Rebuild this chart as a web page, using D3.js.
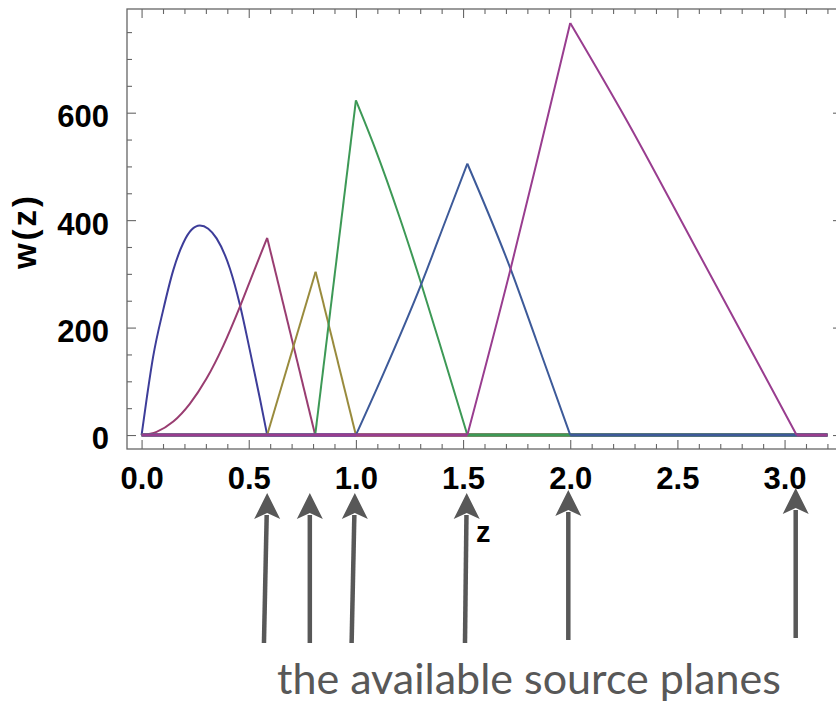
<!DOCTYPE html>
<html>
<head>
<meta charset="utf-8">
<script src="https://cdnjs.cloudflare.com/ajax/libs/d3/7.8.5/d3.min.js"></script>
<style>
    body { margin: 0; background: #fff; }
    svg { display: block; }
    .tick text { font-family: "Liberation Sans", Arial, sans-serif; font-weight: bold; font-size: 31px; fill: #000; }
    .tick line { stroke: #666; stroke-width: 1.1; }
    .axis-title { font-family: "Liberation Sans", Arial, sans-serif; font-weight: bold; fill: #000; }
    .note { font-family: Lato, "Open Sans", sans-serif; fill: #585858; }
</style>
</head>
<body>
<div id="chart"></div>
<script>

// weight functions w(z) of the six source planes
let z1 = [0, 0.025, 0.054, 0.101, 0.148, 0.194, 0.233, 0.272, 0.311, 0.35, 0.412, 0.459, 0.505, 0.552, 0.586, 3.2];
let w1 = [0, 71, 146, 233, 307, 357, 382, 390, 384, 366, 310, 242, 158, 68, 0, 0];

let z2 = [0, 0.07, 0.148, 0.225, 0.303, 0.381, 0.459, 0.521, 0.586, 0.81, 3.2];
let w2 = [0, 6, 25, 58, 105, 166, 239, 302, 367, 0, 0];

let z3 = [0, 0.586, 0.812, 1.0, 3.2];
let w3 = [0, 0, 304, 0, 0];

let z4 = [0, 0.81, 1.0, 1.089, 1.205, 1.299, 1.407, 1.52, 3.2];
let w4 = [0, 0, 623, 534, 404, 289, 149, 0, 0];

let z5 = [0, 1.0, 1.127, 1.306, 1.423, 1.52, 1.719, 1.843, 2.0, 3.2];
let w5 = [0, 0, 113, 282, 404, 505, 312, 175, 0, 0];

let z6 = [0, 1.52, 1.719, 1.851, 2.0, 2.263, 2.574, 2.885, 3.056, 3.2];
let w6 = [0, 0, 305, 520, 767, 586, 357, 127, 0, 0];

let seriesColors = ["#3d3d99", "#993d71", "#998b3d", "#3d9956", "#3d5a99", "#993d8f"];
// only the first weight has a rounded top, the others have a sharp peak
let smoothTop = [true, false, false, false, false, false];

// axis ticks
let xMajor = [0, 0.5, 1.0, 1.5, 2.0, 2.5, 3.0];
let xLabels = ["0.0", "0.5", "1.0", "1.5", "2.0", "2.5", "3.0"];
let yMajor = [0, 200, 400, 600];
let yLabels = ["0", "200", "400", "600"];

// arrows pointing at the source planes (z of tip and tail)
let arrowTipZ = [0.586, 0.785, 0.995, 1.517, 1.991, 3.052];
let arrowTailZ = [0.571, 0.785, 0.980, 1.509, 1.991, 3.052];
let noteText = "the available source planes";


class WeightVis {

    constructor(_parentElement) {
        this.parentElement = _parentElement;
        this.initVis();
    }

    initVis() {
        let vis = this;

        vis.width = 836;
        vis.height = 705;

        vis.svg = d3.select("#" + vis.parentElement).append("svg")
            .attr("width", vis.width)
            .attr("height", vis.height);

        // frame box (right edge falls just outside the picture)
        vis.frame = { left: 127, right: 842, top: 9, bottom: 449 };

        vis.x = d3.scaleLinear()
            .domain([-0.068, 3.268])
            .range([vis.frame.left, vis.frame.right]);

        vis.y = d3.scaleLinear()
            .domain([-26, 793])
            .range([vis.frame.bottom, vis.frame.top]);

        vis.wrangleData();
    }

    /*
     * split every series into pieces: flat zero parts, rising and falling branches
     */
    wrangleData() {
        let vis = this;

        let zs = [z1, z2, z3, z4, z5, z6];
        let ws = [w1, w2, w3, w4, w5, w6];

        vis.displayData = [];

        zs.forEach(function (z, i) {
            let pts = z.map((d, j) => ({ z: d, w: ws[i][j] }));
            let cur = [pts[0]];
            for (let j = 1; j < pts.length; j++) {
                let prev = pts[j - 1], p = pts[j], next = pts[j + 1];
                cur.push(p);
                if (!next) break;
                let cut = false;
                if (p.w === 0 && (prev.w === 0) !== (next.w === 0)) cut = true;
                if (!smoothTop[i] && p.w > prev.w && p.w > next.w) cut = true;
                if (cut) {
                    vis.displayData.push({ series: i, points: cur });
                    cur = [p];
                }
            }
            vis.displayData.push({ series: i, points: cur });
        });

        vis.updateVis();
    }

    updateVis() {
        let vis = this;
        let f = vis.frame;

        let xMinor = d3.range(0, 3.25, 0.1).filter(d => !xMajor.some(m => Math.abs(m - d) < 1e-6));
        let yMinor = d3.range(0, 800, 50).filter(d => yMajor.indexOf(d) < 0);

        // minor ticks on all four sides
        vis.svg.append("g").attr("transform", "translate(0," + f.bottom + ")")
            .call(d3.axisBottom(vis.x).tickValues(xMinor).tickSize(-5).tickFormat(""));
        vis.svg.append("g").attr("transform", "translate(0," + f.top + ")")
            .call(d3.axisTop(vis.x).tickValues(xMinor).tickSize(-5).tickFormat(""));
        vis.svg.append("g").attr("transform", "translate(" + f.left + ",0)")
            .call(d3.axisLeft(vis.y).tickValues(yMinor).tickSize(-5).tickFormat(""));
        vis.svg.append("g").attr("transform", "translate(" + f.right + ",0)")
            .call(d3.axisRight(vis.y).tickValues(yMinor).tickSize(-5).tickFormat(""));

        // major ticks + labels
        vis.svg.append("g").attr("class", "x-axis").attr("transform", "translate(0," + f.bottom + ")")
            .call(d3.axisBottom(vis.x).tickValues(xMajor).tickSize(-9).tickPadding(18)
                .tickFormat((d, i) => xLabels[i]));
        vis.svg.append("g").attr("transform", "translate(0," + f.top + ")")
            .call(d3.axisTop(vis.x).tickValues(xMajor).tickSize(-9).tickFormat(""));
        vis.svg.append("g").attr("class", "y-axis").attr("transform", "translate(" + f.left + ",0)")
            .call(d3.axisLeft(vis.y).tickValues(yMajor).tickSize(-9).tickPadding(18)
                .tickFormat((d, i) => yLabels[i]));
        vis.svg.append("g").attr("transform", "translate(" + f.right + ",0)")
            .call(d3.axisRight(vis.y).tickValues(yMajor).tickSize(-9).tickFormat(""));

        vis.svg.selectAll(".domain").remove();
        vis.svg.select(".y-axis").selectAll("text").attr("dy", "0.45em");

        // frame
        vis.svg.append("rect")
            .attr("x", f.left)
            .attr("y", f.top)
            .attr("width", f.right - f.left)
            .attr("height", f.bottom - f.top)
            .attr("fill", "none")
            .attr("stroke", "#666")
            .attr("stroke-width", 1.3);

        // curves, each piece smoothed on its own so peaks stay sharp
        vis.line = d3.line()
            .x(d => vis.x(d.z))
            .y(d => vis.y(d.w))
            .curve(d3.curveMonotoneX);

        vis.svg.append("g")
            .selectAll("path")
            .data(vis.displayData)
            .enter()
            .append("path")
            .attr("fill", "none")
            .attr("stroke", d => seriesColors[d.series])
            .attr("stroke-width", d => d3.max(d.points, p => p.w) === 0 ? 3 : 2)
            .attr("stroke-linejoin", "round")
            .attr("d", d => vis.line(d.points));

        // axis titles
        vis.svg.append("text")
            .attr("class", "axis-title")
            .attr("transform", "translate(36,231) rotate(-90)")
            .attr("text-anchor", "middle")
            .style("font-size", "33px")
            .style("letter-spacing", "3px")
            .text("w(z)");

        vis.svg.append("text")
            .attr("class", "axis-title")
            .attr("x", 476)
            .attr("y", 542)
            .style("font-size", "29px")
            .text("z");

        // arrows
        let arrows = vis.svg.append("g").attr("class", "arrows");
        let tipY = [493, 493, 493, 493, 490, 488];

        arrowTipZ.forEach(function (z, i) {
            let xt = vis.x(z), xb = vis.x(arrowTailZ[i]);
            let yt = tipY[i], yb = tipY[i] + 150;
            arrows.append("line")
                .attr("x1", xb).attr("y1", yb)
                .attr("x2", xt + (xb - xt) * 0.15).attr("y2", yt + 22)
                .attr("stroke", "#585858")
                .attr("stroke-width", 4.5);
            arrows.append("path")
                .attr("d", "M" + xt + "," + yt + " L" + (xt - 13) + "," + (yt + 26) +
                    " L" + xt + "," + (yt + 20) + " L" + (xt + 13) + "," + (yt + 26) + "Z")
                .attr("fill", "#585858");
        });

        // caption
        let note = vis.svg.append("text")
            .attr("class", "note")
            .attr("x", 277)
            .attr("y", 694)
            .style("font-size", "40px")
            .text(noteText);
        let len = note.node().getComputedTextLength();
        note.style("font-size", (40 * 504 / len) + "px");
    }
}

let weightVis = new WeightVis("chart");

</script>
</body>
</html>
